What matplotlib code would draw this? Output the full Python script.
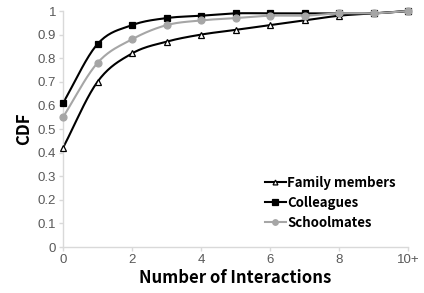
import numpy as np
import matplotlib
matplotlib.use("Agg")
import matplotlib.pyplot as plt
from matplotlib.lines import Line2D

x_vals = [0, 1, 2, 3, 4, 5, 6, 7, 8, 9, 10]
x_ticks = [0, 2, 4, 6, 8, 10]
x_ticklabels = ["0", "2", "4", "6", "8", "10+"]
y_ticks = [0, 0.1, 0.2, 0.3, 0.4, 0.5, 0.6, 0.7, 0.8, 0.9, 1.0]
y_ticklabels = ["0", "0.1", "0.2", "0.3", "0.4", "0.5", "0.6", "0.7", "0.8", "0.9", "1"]

family = [0.42, 0.70, 0.82, 0.87, 0.90, 0.92, 0.94, 0.96, 0.98, 0.99, 1.0]
colleagues = [0.61, 0.86, 0.94, 0.97, 0.98, 0.99, 0.99, 0.99, 0.99, 0.99, 1.0]
schoolmates = [0.55, 0.78, 0.88, 0.94, 0.96, 0.97, 0.98, 0.98, 0.99, 0.99, 1.0]


def smooth(xs, ys, n=20):
    # Catmull-Rom spline through the points (Excel-like smoothed line)
    xs = np.asarray(xs, float)
    ys = np.asarray(ys, float)
    P = np.column_stack([xs, ys])
    P = np.vstack([P[0] - (P[1] - P[0]), P, P[-1] + (P[-1] - P[-2])])
    out = []
    for i in range(1, len(P) - 2):
        p0, p1, p2, p3 = P[i - 1], P[i], P[i + 1], P[i + 2]
        t = np.linspace(0, 1, n, endpoint=False)[:, None]
        pts = 0.5 * ((2 * p1) + (-p0 + p2) * t + (2 * p0 - 5 * p1 + 4 * p2 - p3) * t ** 2
                     + (-p0 + 3 * p1 - 3 * p2 + p3) * t ** 3)
        out.append(pts)
    out.append(P[-2][None, :])
    out = np.vstack(out)
    return out[:, 0], out[:, 1]


fig = plt.figure(figsize=(4.24, 2.93), dpi=100)
ax = fig.add_axes([63 / 424, 1 - 247 / 293, (408 - 63) / 424, (247 - 11) / 293])

lbl_font = ["Noto Sans CJK SC", "DejaVu Sans"]
tick_font = "Liberation Sans"

series = [
    ("Family members", family, "black", "^", "white", "black", 4.5),
    ("Colleagues", colleagues, "black", "s", "black", "black", 5),
    ("Schoolmates", schoolmates, "#A6A6A6", "o", "#A6A6A6", "#A6A6A6", 5),
]
handles = []
for name, ys, c, m, fc, ec, ms in series:
    sx, sy = smooth(x_vals, ys)
    ax.plot(sx, sy, color=c, lw=1.5, zorder=2, clip_on=False)
    ax.plot(x_vals, ys, ls="none", marker=m, ms=ms, mfc=fc, mec=ec, mew=0.9,
            zorder=3, clip_on=False)
    handles.append(Line2D([0], [0], color=c, lw=1.5, marker=m, ms=ms - 1, mfc=fc,
                          mec=ec, mew=0.9, label=name))

ax.set_xlim(0, 10)
ax.set_ylim(0, 1)
ax.set_xticks(x_ticks)
ax.set_xticklabels(x_ticklabels, fontfamily=tick_font, fontsize=9.5, color="#595959")
ax.set_yticks(y_ticks)
ax.set_yticklabels(y_ticklabels, fontfamily=tick_font, fontsize=9.5, color="#595959")
for s in ["top", "right"]:
    ax.spines[s].set_visible(False)
for s in ["left", "bottom"]:
    ax.spines[s].set_color("#D9D9D9")
    ax.spines[s].set_linewidth(1)
ax.tick_params(axis="both", colors="#D9D9D9", length=3, width=1, labelcolor="#595959", pad=2)

ax.set_xlabel("Number of Interactions", fontfamily=lbl_font, fontweight="bold", fontsize=12, labelpad=2)
ax.set_ylabel("CDF", fontfamily=lbl_font, fontweight="bold", fontsize=12, labelpad=3)

leg = ax.legend(handles=handles, loc="upper left", bbox_to_anchor=(0.565, 0.33),
                frameon=False, handlelength=1.6, handletextpad=0.1, labelspacing=0.45,
                borderpad=0, prop={"family": lbl_font, "weight": "bold", "size": 9.5})

fig.savefig("out.png", dpi=100)
